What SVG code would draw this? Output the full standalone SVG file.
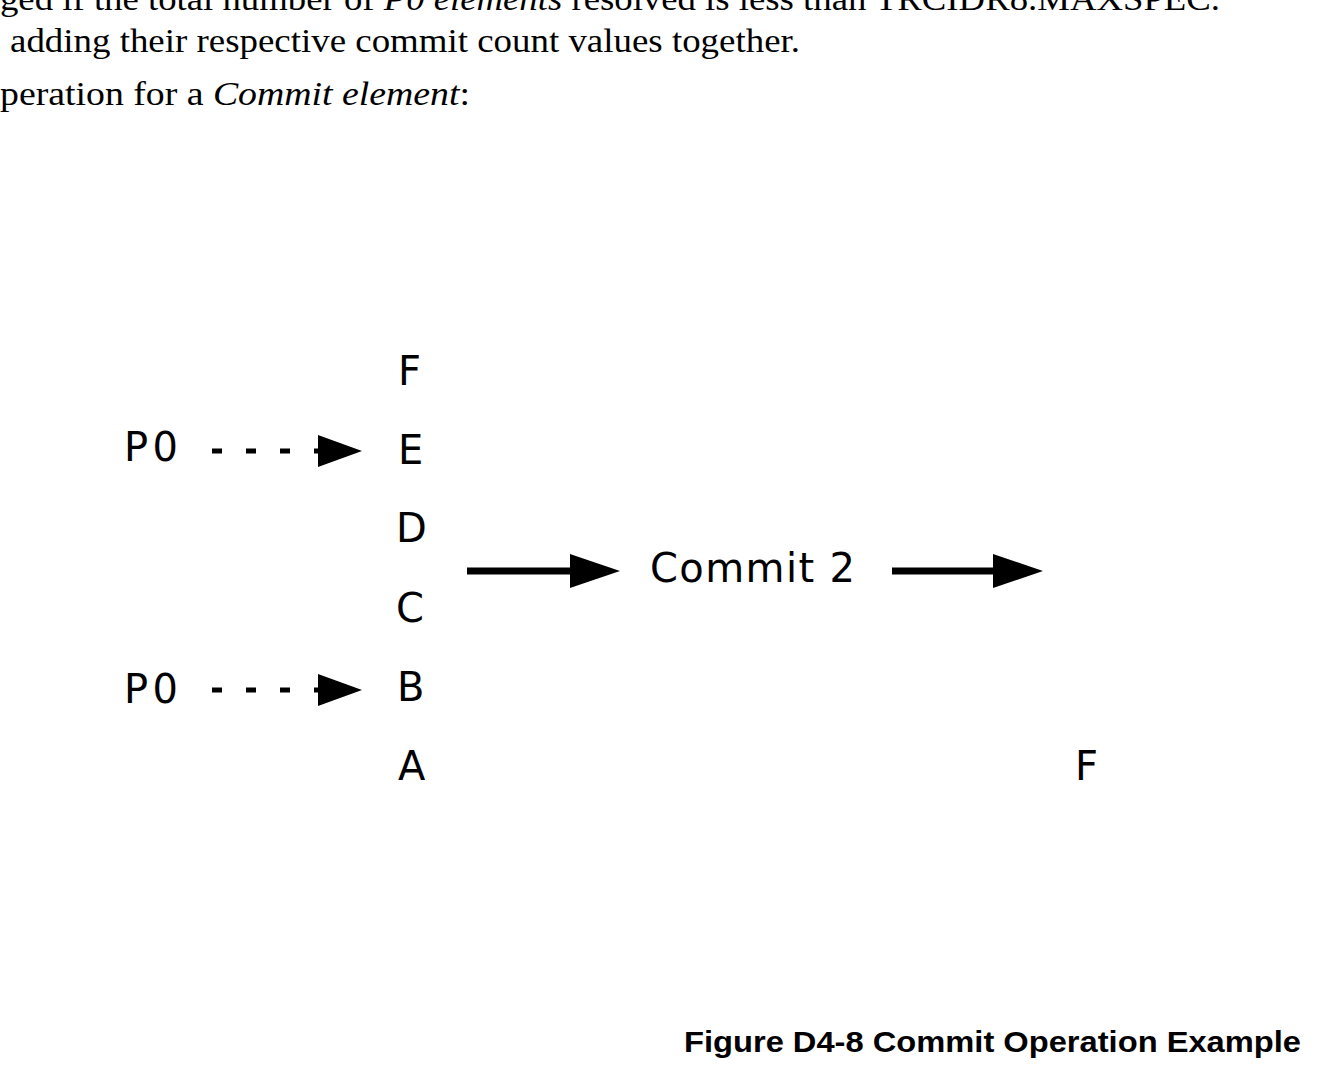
<svg xmlns="http://www.w3.org/2000/svg" width="1334" height="1084" viewBox="0 0 1334 1084">
<style>
.body{font-family:"Liberation Serif",serif;font-size:34px;fill:#000}
.lbl{font-family:"DejaVu Sans",sans-serif;font-size:40px;fill:#000}
.cap{font-family:"Liberation Sans",Arial,sans-serif;font-size:30px;font-weight:bold;fill:#000}
.dash{stroke:#000;stroke-width:5;stroke-dasharray:10 24;fill:none}
.solid{stroke:#000;stroke-width:7;fill:none}
</style>
<rect width="1334" height="1084" fill="#fff"/>
<text class="body" x="0" y="10" textLength="1220" lengthAdjust="spacingAndGlyphs">ged if the total number of <tspan font-style="italic">P0 elements</tspan> resolved is less than TRCIDR8.MAXSPEC.</text>
<text class="body" x="10" y="52" textLength="790" lengthAdjust="spacingAndGlyphs">adding their respective commit count values together.</text>
<text class="body" x="0" y="105" textLength="470" lengthAdjust="spacingAndGlyphs">peration for a <tspan font-style="italic">Commit element</tspan>:</text>
<g id="nodeF1"><text class="lbl" x="398" y="385">F</text></g>
<g id="nodeE"><text class="lbl" x="398" y="464">E</text></g>
<g id="nodeD"><text class="lbl" x="396" y="542">D</text></g>
<g id="nodeC"><text class="lbl" x="396" y="622">C</text></g>
<g id="nodeB"><text class="lbl" x="397" y="701">B</text></g>
<g id="nodeA"><text class="lbl" x="398" y="780">A</text></g>
<g id="p0top"><text class="lbl" x="124" y="461" textLength="54">P0</text></g>
<g id="p0bot"><text class="lbl" x="124" y="703" textLength="54">P0</text></g>
<g id="commit"><text class="lbl" x="650" y="582" textLength="205">Commit 2</text></g>
<g id="nodeF2"><text class="lbl" x="1075" y="780">F</text></g>
<g id="connectors">
<line class="dash" x1="212" y1="451" x2="322" y2="451"/>
<polygon points="318,435 362,451 318,467"/>
<line class="dash" x1="212" y1="690" x2="322" y2="690"/>
<polygon points="318,674 362,690 318,706"/>
<line class="solid" x1="467" y1="571" x2="575" y2="571"/>
<polygon points="570,554 620,571 570,588"/>
<line class="solid" x1="892" y1="571" x2="998" y2="571"/>
<polygon points="993,554 1043,571 993,588"/>
</g>
<text class="cap" x="684" y="1052" textLength="617" lengthAdjust="spacingAndGlyphs">Figure D4-8 Commit Operation Example</text>
</svg>
